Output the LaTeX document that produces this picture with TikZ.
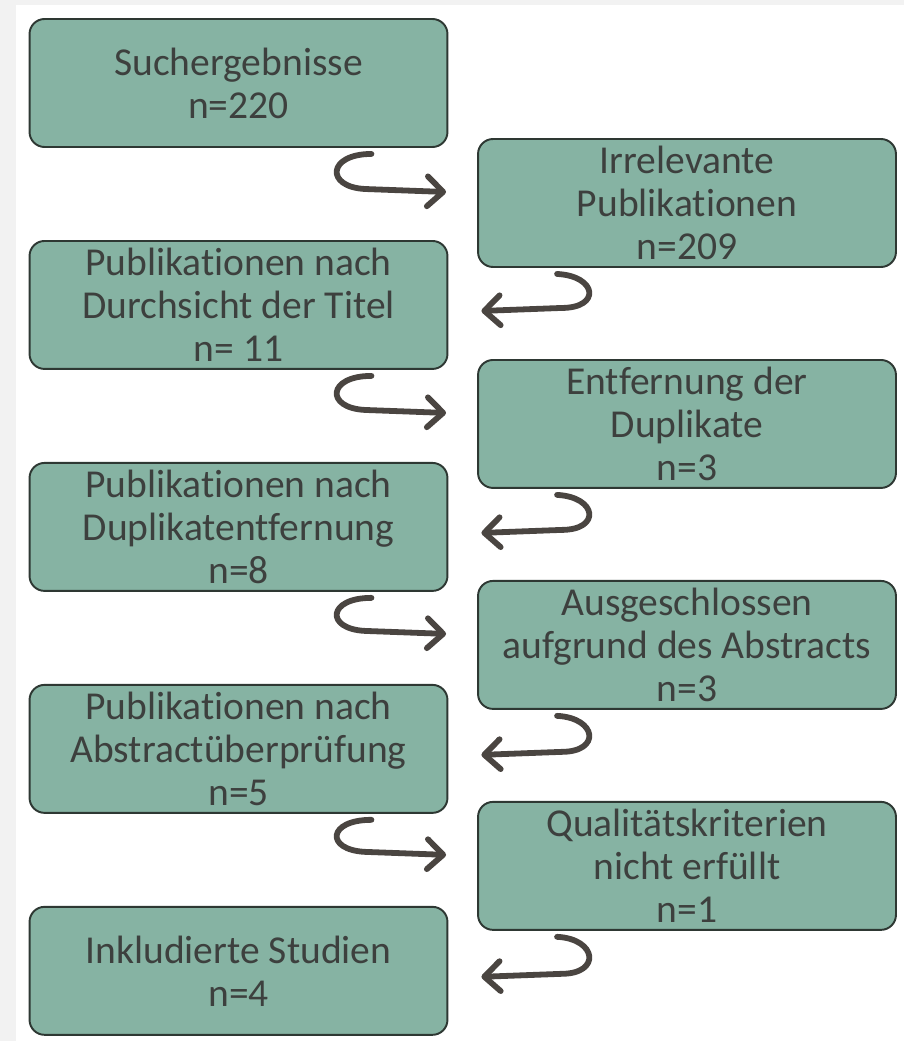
\documentclass[tikz,border=0pt]{standalone}
\usepackage{fontspec}
\setmainfont{Carlito}[Ligatures=NoCommon]
\usepackage{tikz}
\usetikzlibrary{arrows.meta, positioning, calc}
\definecolor{boxfill}{HTML}{86B3A3}
\definecolor{boxline}{HTML}{2E3833}
\definecolor{boxtext}{HTML}{3D403E}
\definecolor{hookcol}{HTML}{4A4541}
\tikzstyle{stage} = [rectangle, rounded corners=0.3cm, minimum width=8.36cm, minimum height=2.56cm, inner sep=0pt, align=center, draw=boxline, fill=boxfill, line width=1.1pt, text=boxtext, font=\fontsize{22.5}{24.5}\selectfont]
\tikzstyle{hook} = [line width=3.3pt, draw=hookcol, line cap=round, line join=round, -{Straight Barb[length=9pt,width=17pt,round]}]

\begin{document}
\begin{tikzpicture}[x=0.02cm, y=-0.02cm]
\fill[black!5] (0,0) rectangle (904,1041);
\fill[white] (16,5) rectangle (904,1041);
\useasboundingbox (0,0) rectangle (904,1041);

% left column
\begin{scope}[node distance=4.44cm]
\node (srch) [stage] at (238.5,83) {Suchergebnisse\\n=220};
\node (titel) [stage, below of=srch] {Publikationen nach\\Durchsicht der Titel\\n= 11};
\node (dupfree) [stage, below of=titel] {Publikationen nach\\Duplikatentfernung\\n=8};
\node (abschk) [stage, below of=dupfree] {Publikationen nach\\Abstractüberprüfung\\n=5};
\node (incl) [stage, below of=abschk] {Inkludierte Studien\\n=4};
\end{scope}

% right column
\begin{scope}[node distance=4.42cm]
\node (irrel) [stage] at (687,203) {Irrelevante\\Publikationen\\n=209};
\node (dupl) [stage, below of=irrel] {Entfernung der\\Duplikate\\n=3};
\node (abstr) [stage, below of=dupl] {Ausgeschlossen\\aufgrund des Abstracts\\n=3};
\node (qual) [stage, below of=abstr] {Qualitätskriterien\\nicht erfüllt\\n=1};
\end{scope}

% hooks to the right
\draw [hook] ($(srch.south east)+(-77,6)$) .. controls +(-44,0) and +(-40,-2) .. ($(irrel.west)+(-112,-14)$) -- ($(irrel.west)+(-31,-11)$);
\draw [hook] ($(titel.south east)+(-77,6)$) .. controls +(-44,0) and +(-40,-2) .. ($(dupl.west)+(-112,-14)$) -- ($(dupl.west)+(-31,-11)$);
\draw [hook] ($(dupfree.south east)+(-77,6)$) .. controls +(-44,0) and +(-40,-2) .. ($(abstr.west)+(-112,-14)$) -- ($(abstr.west)+(-31,-11)$);
\draw [hook] ($(abschk.south east)+(-77,6)$) .. controls +(-44,0) and +(-40,-2) .. ($(qual.west)+(-112,-14)$) -- ($(qual.west)+(-31,-11)$);

% hooks to the left
\draw [hook] ($(irrel.south west)+(80,6)$) .. controls +(40,2) and +(40,0) .. ($(titel.east)+(113,3)$) -- ($(titel.east)+(33,6)$);
\draw [hook] ($(dupl.south west)+(80,6)$) .. controls +(40,2) and +(40,0) .. ($(dupfree.east)+(113,3)$) -- ($(dupfree.east)+(33,6)$);
\draw [hook] ($(abstr.south west)+(80,6)$) .. controls +(40,2) and +(40,0) .. ($(abschk.east)+(113,3)$) -- ($(abschk.east)+(33,6)$);
\draw [hook] ($(qual.south west)+(80,6)$) .. controls +(40,2) and +(40,0) .. ($(incl.east)+(113,3)$) -- ($(incl.east)+(33,6)$);
\end{tikzpicture}
\end{document}
